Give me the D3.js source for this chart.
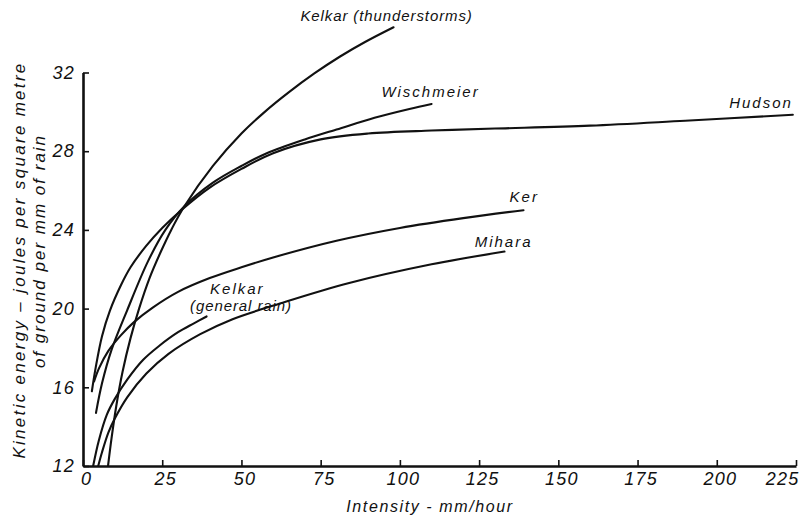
<!DOCTYPE html>
<html>
<head>
<meta charset="utf-8">
<script src="https://cdn.jsdelivr.net/npm/d3@7"></script>
<style>
  body { margin: 0; background: #fff; }
  svg text { font-family: "Liberation Sans", Arial, sans-serif; font-style: italic; fill: #111; }
</style>
</head>
<body>
<div id="chart"></div>
<script>
// axis ticks
var xTicks = [0, 25, 50, 75, 100, 125, 150, 175, 200, 225];
var yTicks = [12, 16, 20, 24, 28, 32];

// curves: intensity (mm/hour) and energy (J per m2 per mm)
var hudsonI = [2.8, 4, 6, 8.5, 12, 15, 20, 25, 31, 40, 50, 60, 75, 90, 110, 130, 160, 190, 224];
var hudsonE = [15.8, 17.0, 18.6, 19.9, 21.2, 22.1, 23.2, 24.1, 25.0, 26.15, 27.1, 27.9, 28.6, 28.9, 29.05, 29.15, 29.3, 29.55, 29.85];

var wischI = [4.1, 6, 9, 13.9, 20.5, 26, 32, 41, 50, 58, 70, 80, 92, 103, 110];
var wischE = [14.7, 16.2, 17.9, 19.9, 22.4, 24.0, 25.2, 26.4, 27.25, 27.9, 28.6, 29.1, 29.7, 30.15, 30.4];

var kelkarTI = [7.9, 9, 10.5, 12.5, 15, 17.7, 21, 24.3, 28, 32, 41, 50, 57, 65, 73, 81, 89, 98];
var kelkarTE = [12, 13.4, 15.05, 16.8, 18.5, 20.0, 21.55, 22.8, 24.05, 25.2, 27.25, 28.9, 29.95, 31.0, 31.95, 32.8, 33.55, 34.3];

var kerI = [3.5, 5, 8, 12, 16, 22, 30, 40, 50, 60, 80, 100, 120, 139];
var kerE = [16.3, 16.95, 17.85, 18.65, 19.3, 20.05, 20.85, 21.55, 22.1, 22.6, 23.45, 24.1, 24.6, 25.0];

var kelkarGI = [3.2, 5, 7.5, 10, 14, 19, 24, 30, 35, 39];
var kelkarGE = [12, 13.3, 14.6, 15.4, 16.4, 17.4, 18.1, 18.8, 19.25, 19.6];

var miharaI = [4.8, 6, 8, 10, 14, 20, 27, 37, 47, 63, 84, 110, 133];
var miharaE = [12.0, 12.7, 13.7, 14.4, 15.5, 16.7, 17.7, 18.7, 19.45, 20.3, 21.3, 22.25, 22.9];

// curve labels: text and the data point where the text starts
var labelText = ['Kelkar (thunderstorms)', 'Wischmeier', 'Hudson', 'Ker', 'Mihara', 'Kelkar', '(general rain)'];
var labelI = [68.6, 94.2, 203.9, 134.6, 123.6, 40.1, 33.8];
var labelE = [34.9, 31.0, 30.45, 25.7, 23.4, 21.0, 20.15];

var W = 805, H = 523;
var svg = d3.select('#chart').append('svg').attr('width', W).attr('height', H);

var x = d3.scaleLinear().domain([0, 225]).range([83, 796]);
var y = d3.scaleLinear().domain([12, 32]).range([466, 72.5]);

var toPoints = function(xs, ys) {
  return xs.map(function(v, i) { return [v, ys[i]]; });
};

var curves = [
  toPoints(hudsonI, hudsonE),
  toPoints(wischI, wischE),
  toPoints(kelkarTI, kelkarTE),
  toPoints(kerI, kerE),
  toPoints(kelkarGI, kelkarGE),
  toPoints(miharaI, miharaE)
];

var line = d3.line()
  .x(function(d) { return x(d[0]); })
  .y(function(d) { return y(d[1]); })
  .curve(d3.curveCatmullRom.alpha(0.5));

svg.append('g').selectAll('path').data(curves).enter().append('path')
  .attr('d', line)
  .attr('fill', 'none')
  .attr('stroke', '#111')
  .attr('stroke-width', 2.1)
  .attr('stroke-linecap', 'round');

// axes, ticks point inwards
var yAxis = svg.append('g').attr('transform', 'translate(' + x(0) + ',0)')
  .call(d3.axisLeft(y).tickValues(yTicks).tickSize(-6).tickSizeOuter(0).tickPadding(8));
var xAxis = svg.append('g').attr('transform', 'translate(0,' + y(12) + ')')
  .call(d3.axisBottom(x).tickValues(xTicks).tickSize(-6).tickSizeOuter(0).tickPadding(6));

[yAxis, xAxis].forEach(function(a) {
  a.select('.domain').attr('stroke', '#111').attr('stroke-width', 2.6);
  a.selectAll('.tick line').attr('stroke', '#111').attr('stroke-width', 1.6);
  a.selectAll('.tick text')
    .style('font-family', '"Liberation Sans", Arial, sans-serif')
    .style('font-style', 'italic')
    .style('letter-spacing', '1.2px')
    .attr('font-size', 18).attr('fill', '#111');
});
yAxis.selectAll('.tick text').attr('x', -8);
xAxis.selectAll('.tick text').attr('dx', 3);
xAxis.selectAll('.tick text').filter(function(d) { return d === 225; })
  .attr('text-anchor', 'end').attr('dx', 3);

// curve names
svg.append('g').selectAll('text').data(labelText).enter().append('text')
  .attr('x', function(d, i) { return x(labelI[i]); })
  .attr('y', function(d, i) { return y(labelE[i]); })
  .attr('dy', '0.35em')
  .attr('font-size', 15)
  .style('letter-spacing', function(d, i) { return (i === 0 || i === 6) ? '0.9px' : '2px'; })
  .text(function(d) { return d; });

// axis titles
svg.append('text')
  .attr('x', 430).attr('y', 512)
  .attr('text-anchor', 'middle')
  .attr('font-size', 16)
  .style('letter-spacing', '1.6px')
  .text('Intensity - mm/hour');

svg.append('text')
  .attr('transform', 'translate(25,260) rotate(-90)')
  .attr('text-anchor', 'middle')
  .attr('font-size', 17)
  .style('letter-spacing', '2.3px')
  .text('Kinetic energy \u2013 joules per square metre');
svg.append('text')
  .attr('transform', 'translate(45,251) rotate(-90)')
  .attr('text-anchor', 'middle')
  .attr('font-size', 17)
  .style('letter-spacing', '2px')
  .text('of ground per mm of rain');
</script>
</body>
</html>
